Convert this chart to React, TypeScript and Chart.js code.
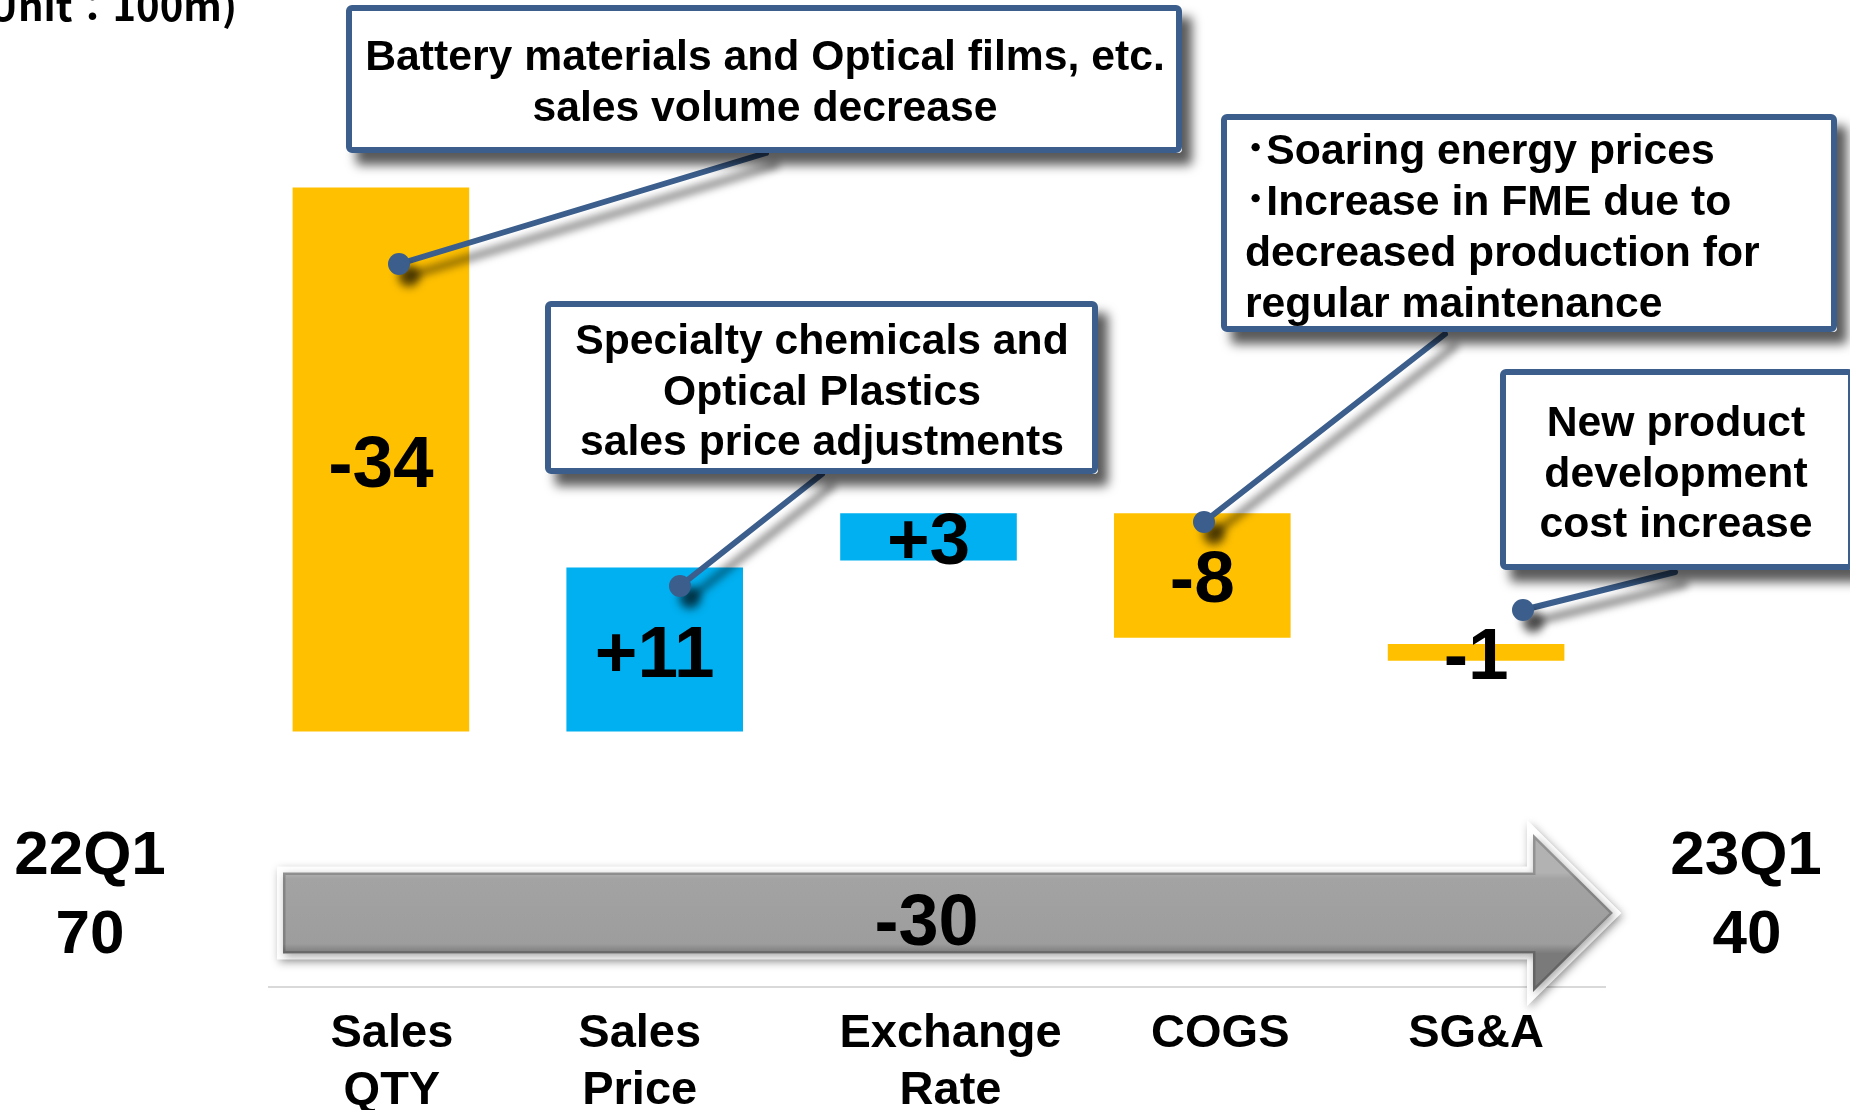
import React, { useEffect, useRef } from "react";
import { Chart, registerables } from "chart.js";

Chart.register(...registerables);

// ---------------- data ----------------
const categories: (string | string[])[] = [
  ["Sales", "QTY"],
  ["Sales", "Price"],
  ["Exchange", "Rate"],
  "COGS",
  "SG&A",
];
const barFrom = [70, 35.5, 46.35, 49.35, 41.05];
const barTo = [35.5, 45.9, 49.35, 41.45, 40.0];
const barLabels = ["-34", "+11", "+3", "-8", "-1"];
const barColors = ["#FFC000", "#00B0F0", "#00B0F0", "#FFC000", "#FFC000"];
const startPeriod = "22Q1";
const startValue = "70";
const endPeriod = "23Q1";
const endValue = "40";
const totalChange = "-30";
const unitLabel = "(Unit\uFF1A100m)";
const noteQty = ["Battery materials and Optical films, etc.", "sales volume decrease"];
const notePrice = ["Specialty chemicals and", "Optical Plastics", "sales price adjustments"];
const noteCogs = [
  "\uFF65Soaring energy prices",
  "\uFF65Increase in FME due to",
  "decreased production for",
  "regular maintenance",
];
const noteSga = ["New product", "development", "cost increase"];

// ---------------- styling / layout ----------------
const FONT = '"Liberation Sans", Arial, "Noto Sans CJK JP", sans-serif';
const BLUE = "#3B5E8C";
const TICK_FONT_SIZE = 47;
const TICK_LINE = 57;
const TICK_PAD = 15;
// horizontal nudges of the category captions relative to their bar centres
const LABEL_SHIFT = [11, -15, 22, 18, 0];

type Note = {
  lines: string[];
  box: { x: number; y: number; w: number; h: number };
  align: CanvasTextAlign;
  textX: number;
  baseline: number;
  gap: number;
  from: [number, number];
  to: [number, number];
};

const NOTES: Note[] = [
  { lines: noteQty, box: { x: 346, y: 5, w: 836, h: 148 }, align: "center", textX: 765, baseline: 70, gap: 51, from: [766, 153], to: [399, 264] },
  { lines: notePrice, box: { x: 545, y: 301, w: 553, h: 173 }, align: "center", textX: 822, baseline: 354, gap: 50.5, from: [822, 474], to: [680, 586] },
  { lines: noteCogs, box: { x: 1221, y: 114, w: 616, h: 218 }, align: "left", textX: 1245, baseline: 164, gap: 51, from: [1445, 334], to: [1204, 522] },
  { lines: noteSga, box: { x: 1500, y: 369, w: 354, h: 201 }, align: "center", textX: 1676, baseline: 436, gap: 50.5, from: [1675, 572], to: [1523, 610] },
];

function roundRectPath(ctx: CanvasRenderingContext2D, x: number, y: number, w: number, h: number, r: number) {
  ctx.beginPath();
  ctx.moveTo(x + r, y);
  ctx.arcTo(x + w, y, x + w, y + h, r);
  ctx.arcTo(x + w, y + h, x, y + h, r);
  ctx.arcTo(x, y + h, x, y, r);
  ctx.arcTo(x, y, x + w, y, r);
  ctx.closePath();
}

function drawCallout(ctx: CanvasRenderingContext2D, n: Note) {
  ctx.save();
  ctx.shadowColor = "rgba(0,0,0,0.6)";
  ctx.shadowBlur = 9;
  ctx.shadowOffsetX = 10;
  ctx.shadowOffsetY = 12;
  ctx.strokeStyle = BLUE;
  ctx.lineWidth = 6;
  ctx.lineCap = "round";
  ctx.beginPath();
  ctx.moveTo(n.from[0], n.from[1]);
  ctx.lineTo(n.to[0], n.to[1]);
  ctx.stroke();
  ctx.fillStyle = BLUE;
  ctx.beginPath();
  ctx.arc(n.to[0], n.to[1], 11, 0, Math.PI * 2);
  ctx.fill();
  ctx.restore();
}

function drawNoteBox(ctx: CanvasRenderingContext2D, n: Note) {
  const b = n.box;
  ctx.save();
  ctx.shadowColor = "rgba(0,0,0,0.65)";
  ctx.shadowBlur = 11;
  ctx.shadowOffsetX = 10;
  ctx.shadowOffsetY = 12;
  ctx.fillStyle = "#ffffff";
  roundRectPath(ctx, b.x, b.y, b.w, b.h, 4);
  ctx.fill();
  ctx.restore();

  ctx.save();
  ctx.strokeStyle = BLUE;
  ctx.lineWidth = 6;
  roundRectPath(ctx, b.x + 3, b.y + 3, b.w - 6, b.h - 6, 3);
  ctx.stroke();
  ctx.fillStyle = "#000";
  ctx.font = `bold 42.7px ${FONT}`;
  ctx.textAlign = n.align;
  ctx.textBaseline = "alphabetic";
  n.lines.forEach((t, i) => ctx.fillText(t, n.textX, n.baseline + i * n.gap));
  ctx.restore();
}

function drawArrow(ctx: CanvasRenderingContext2D, ca: { left: number; right: number; bottom: number }) {
  const x0 = ca.left + 39;
  const tip = ca.right;
  const base = ca.right - 80;
  const cy = ca.bottom - 74;
  const sh = 40.5;
  const hh = 79;
  const path = () => {
    ctx.beginPath();
    ctx.moveTo(x0, cy - sh);
    ctx.lineTo(base, cy - sh);
    ctx.lineTo(base, cy - hh);
    ctx.lineTo(tip, cy);
    ctx.lineTo(base, cy + hh);
    ctx.lineTo(base, cy + sh);
    ctx.lineTo(x0, cy + sh);
    ctx.closePath();
  };
  ctx.save();
  ctx.shadowColor = "rgba(0,0,0,0.35)";
  ctx.shadowBlur = 8;
  ctx.shadowOffsetX = 2;
  ctx.shadowOffsetY = 3;
  ctx.lineJoin = "miter";
  ctx.lineWidth = 12;
  ctx.strokeStyle = "#ffffff";
  ctx.fillStyle = "#ffffff";
  path();
  ctx.stroke();
  ctx.fill();
  ctx.restore();

  ctx.save();
  const g = ctx.createLinearGradient(0, cy - sh, 0, cy + sh);
  g.addColorStop(0, "#b2b2b2");
  g.addColorStop(0.08, "#a3a3a3");
  g.addColorStop(0.88, "#9d9d9d");
  g.addColorStop(1, "#7a7a7a");
  ctx.fillStyle = g;
  path();
  ctx.fill();
  ctx.clip();
  ctx.strokeStyle = "rgba(0,0,0,0.18)";
  ctx.lineWidth = 5;
  path();
  ctx.stroke();
  ctx.restore();

  ctx.save();
  ctx.fillStyle = "#000";
  ctx.font = `bold 72px ${FONT}`;
  ctx.textAlign = "center";
  ctx.textBaseline = "alphabetic";
  ctx.fillText(totalChange, (ca.left + ca.right) / 2 - 2, cy + 6 + 26);
  ctx.restore();
}

const overlayPlugin = {
  id: "waterfallOverlay",
  afterDraw(chart: any) {
    const ctx: CanvasRenderingContext2D = chart.ctx;
    const ca = chart.chartArea;
    const xScale = chart.scales.x;

    // base line under the arrow
    ctx.save();
    ctx.strokeStyle = "#d9d9d9";
    ctx.lineWidth = 2;
    ctx.beginPath();
    ctx.moveTo(ca.left + 24, ca.bottom);
    ctx.lineTo(ca.right - 7, ca.bottom);
    ctx.stroke();
    ctx.restore();

    drawArrow(ctx, ca);

    // category captions
    ctx.save();
    ctx.fillStyle = "#000";
    ctx.textAlign = "center";
    ctx.textBaseline = "middle";
    ctx.font = `bold ${TICK_FONT_SIZE}px ${FONT}`;
    categories.forEach((c, i) => {
      const lines = Array.isArray(c) ? c : [c];
      const x = xScale.getPixelForTick(i) + LABEL_SHIFT[i];
      lines.forEach((t, j) => {
        ctx.fillText(t, x, ca.bottom + TICK_PAD + 4 + TICK_LINE / 2 + j * TICK_LINE);
      });
    });
    ctx.restore();

    ctx.save();
    ctx.fillStyle = "#000";
    ctx.textAlign = "center";
    ctx.textBaseline = "alphabetic";
    ctx.font = `bold 62px ${FONT}`;
    ctx.fillText(startPeriod, 90, 874);
    ctx.fillText(startValue, 90, 953);
    ctx.fillText(endPeriod, 1746, 874);
    ctx.fillText(endValue, 1747, 953);
    ctx.textAlign = "right";
    ctx.font = `bold 40px "Noto Sans CJK JP", "Noto Sans", sans-serif`;
    ctx.fillText(unitLabel, 237, 21);
    ctx.restore();

    NOTES.forEach((n) => drawCallout(ctx, n));
    NOTES.forEach((n) => drawNoteBox(ctx, n));

    const meta = chart.getDatasetMeta(0);
    ctx.save();
    ctx.fillStyle = "#000";
    ctx.textAlign = "center";
    ctx.textBaseline = "alphabetic";
    ctx.font = `bold 73px ${FONT}`;
    meta.data.forEach((el: any, i: number) => {
      const cy = (el.y + el.base) / 2;
      ctx.fillText(barLabels[i], el.x, cy + 27);
    });
    ctx.restore();
  },
};

export default function App() {
  const ref = useRef<HTMLCanvasElement | null>(null);

  useEffect(() => {
    if (!ref.current) return;
    const chart = new Chart(ref.current, {
      type: "bar",
      data: {
        labels: categories as any,
        datasets: [
          {
            data: barFrom.map((s, i) => [s, barTo[i]]) as any,
            backgroundColor: barColors,
            borderWidth: 0,
            borderSkipped: false,
            barPercentage: 0.645,
            categoryPercentage: 1,
          },
        ],
      },
      options: {
        responsive: false,
        animation: false,
        devicePixelRatio: 1,
        layout: { padding: { left: 244, right: 237, top: 0, bottom: 0 } },
        plugins: {
          legend: { display: false },
          tooltip: { enabled: false },
          title: { display: false },
        },
        scales: {
          x: {
            grid: { display: false, drawTicks: false },
            border: { display: false },
            ticks: {
              // space is reserved by the axis; captions are painted by the overlay
              color: "rgba(0,0,0,0)",
              font: { family: FONT, size: TICK_FONT_SIZE, weight: "bold", lineHeight: TICK_LINE / TICK_FONT_SIZE },
              padding: TICK_PAD,
              maxRotation: 0,
              autoSkip: false,
            },
          },
          y: { display: false, min: 19.3, max: 81.9 },
        },
      },
      plugins: [overlayPlugin],
    });
    return () => chart.destroy();
  }, []);

  return (
    <div
      style={{
        position: "fixed",
        left: 0,
        top: 0,
        width: 1850,
        height: 1110,
        overflow: "hidden",
        background: "#ffffff",
      }}
    >
      <canvas ref={ref} width={1850} height={1131} style={{ display: "block", width: 1850, height: 1131 }} />
    </div>
  );
}
